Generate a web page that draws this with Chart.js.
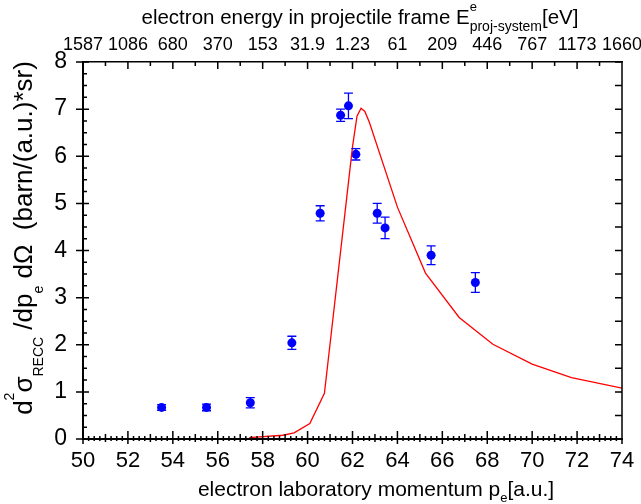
<!DOCTYPE html>
<html>
<head>
<meta charset="utf-8">
<script src="https://cdn.jsdelivr.net/npm/chart.js@4.4.0/dist/chart.umd.min.js"></script>
<style>
  body { margin: 0; background: #fff; }
</style>
</head>
<body>
<canvas id="myChart" width="641" height="504"></canvas>
<script>
// measured points (momentum in a.u., cross section, error)
var momentum = [53.5, 55.5, 57.45, 59.3, 60.56, 61.47, 61.82, 62.15, 63.1, 63.45, 65.5, 67.47];
var crossSection = [0.67, 0.67, 0.77, 2.04, 4.79, 6.87, 7.07, 6.04, 4.79, 4.48, 3.9, 3.32];
var errors = [0.06, 0.07, 0.11, 0.14, 0.16, 0.13, 0.27, 0.12, 0.21, 0.23, 0.2, 0.21];

// theory curve
var theoryMomentum = [57.4, 58.9, 59.4, 60.1, 60.75, 62.0, 62.2, 62.38, 62.55, 62.75, 64.0, 65.25, 66.75, 68.25, 70.0, 71.75, 74.0];
var theoryValue = [0.03, 0.08, 0.13, 0.33, 0.97, 6.2, 6.85, 7.02, 6.95, 6.72, 4.92, 3.52, 2.58, 2.01, 1.59, 1.3, 1.08];

// top axis labels (electron energy in projectile frame, eV)
var energyTicks = ["1587", "1086", "680", "370", "153", "31.9", "1.23", "61", "209", "446", "767", "1173", "1660"];

var FONT = '"Liberation Sans", Arial, Helvetica, sans-serif';

function richText(ctx, parts, x, y) {
    var widths = parts.map(function (p) {
        ctx.font = p.size + "px " + FONT;
        return p.stack ? 0 : ctx.measureText(p.t).width;
    });
    var total = widths.reduce(function (s, w) { return s + w; }, 0);
    var cx = x - total / 2;
    parts.forEach(function (p, i) {
        ctx.font = p.size + "px " + FONT;
        ctx.fillText(p.t, cx, y + (p.dy || 0));
        cx += widths[i];
    });
}

var errorBars = {
    id: "errorBars",
    afterDatasetsDraw: function (chart) {
        var ctx = chart.ctx, xs = chart.scales.x, ys = chart.scales.y;
        ctx.save();
        ctx.strokeStyle = "#0000ff";
        ctx.lineWidth = 1.3;
        ctx.beginPath();
        for (var i = 0; i < momentum.length; i++) {
            var px = xs.getPixelForValue(momentum[i]);
            var top = ys.getPixelForValue(crossSection[i] + errors[i]);
            var bot = ys.getPixelForValue(crossSection[i] - errors[i]);
            ctx.moveTo(px, top); ctx.lineTo(px, bot);
            ctx.moveTo(px - 4.5, top); ctx.lineTo(px + 4.5, top);
            ctx.moveTo(px - 4.5, bot); ctx.lineTo(px + 4.5, bot);
        }
        ctx.stroke();
        ctx.restore();
    }
};

var axisDecor = {
    id: "axisDecor",
    afterDraw: function (chart) {
        var ctx = chart.ctx, a = chart.chartArea, xs = chart.scales.x, ys = chart.scales.y;
        ctx.save();
        ctx.strokeStyle = "#000";
        ctx.lineWidth = 1.5;
        ctx.beginPath();
        // bottom ticks, every 0.25
        for (var i = 0; i <= 96; i++) {
            var px = xs.getPixelForValue(50 + i * 0.25);
            var up = 3, dn = 2;
            if (i % 8 === 0) { up = 8; dn = 5; } else if (i % 4 === 0) { up = 5; dn = 3; }
            ctx.moveTo(px, a.bottom - up); ctx.lineTo(px, a.bottom + dn);
        }
        // top ticks, every 1
        for (var j = 0; j <= 24; j++) {
            var tx = xs.getPixelForValue(50 + j);
            ctx.moveTo(tx, a.top); ctx.lineTo(tx, a.top + (j % 2 === 0 ? 7 : 4));
        }
        // left ticks, every 0.25
        for (var k = 0; k <= 32; k++) {
            var py = ys.getPixelForValue(k * 0.25);
            if (k % 4 === 0) { ctx.moveTo(a.left - 7, py); ctx.lineTo(a.left + 6, py); }
            else { ctx.moveTo(a.left - 1, py); ctx.lineTo(a.left + 4, py); }
        }
        // right ticks, every 0.5
        for (var m = 0; m <= 16; m++) {
            var ry = ys.getPixelForValue(m * 0.5);
            ctx.moveTo(a.right - 7, ry); ctx.lineTo(a.right, ry);
        }
        ctx.moveTo(a.right, a.top); ctx.lineTo(a.right, a.bottom);
        ctx.stroke();

        // axis titles
        ctx.fillStyle = "#000";
        ctx.textBaseline = "alphabetic";
        ctx.textAlign = "left";
        richText(ctx, [
            { t: "electron energy in projectile frame E", size: 20.5 },
            { t: "e", size: 13, dy: -13, stack: true },
            { t: "proj-system", size: 14, dy: 7 },
            { t: "[eV]", size: 20.5 }
        ], 360, 24);
        richText(ctx, [
            { t: "electron laboratory momentum p", size: 21 },
            { t: "e", size: 13, dy: 6 },
            { t: "[a.u.]", size: 21 }
        ], 376, 496);
        ctx.translate(31.5, 238);
        ctx.rotate(-Math.PI / 2);
        richText(ctx, [
            { t: "d", size: 26 },
            { t: "2", size: 14, dy: -18 },
            { t: "\u03c3", size: 26 },
            { t: "RECC", size: 14, dy: 11 },
            { t: " /dp", size: 26 },
            { t: "e", size: 14, dy: 11 },
            { t: " d\u03a9  (barn/(a.u.)*sr)", size: 26 }
        ], 0, 0);
        ctx.restore();
    }
};

var points = momentum.map(function (v, i) { return { x: v, y: crossSection[i] }; });
var theory = theoryMomentum.map(function (v, i) { return { x: v, y: theoryValue[i] }; });

new Chart("myChart", {
    type: "scatter",
    data: {
        datasets: [{
            type: "line",
            data: theory,
            borderColor: "#ff0000",
            borderWidth: 1.3,
            pointRadius: 0,
            fill: false,
            tension: 0
        }, {
            data: points,
            backgroundColor: "#0000ff",
            borderColor: "#0000ff",
            borderWidth: 0,
            pointRadius: 4.5
        }]
    },
    options: {
        responsive: false,
        animation: false,
        devicePixelRatio: 1,
        layout: { padding: { left: 0, right: 19, top: 0, bottom: 0 } },
        plugins: { legend: { display: false }, tooltip: { enabled: false } },
        scales: {
            x: {
                type: "linear", position: "bottom", min: 50, max: 74,
                afterFit: function (s) { s.height = 65; },
                grid: { display: false },
                border: { display: true, color: "#000", width: 2 },
                ticks: { stepSize: 2, padding: 1, color: "#000", maxRotation: 0, autoSkip: false,
                         font: { family: FONT, size: 22 } }
            },
            x2: {
                type: "linear", position: "top", min: 50, max: 74,
                afterFit: function (s) { s.height = 62; },
                grid: { display: false },
                border: { display: true, color: "#000", width: 1.5 },
                ticks: { stepSize: 2, padding: -2, color: "#000", maxRotation: 0, autoSkip: false,
                         font: { family: FONT, size: 18 },
                         callback: function (value, index) { return energyTicks[index]; } }
            },
            y: {
                type: "linear", min: 0, max: 8,
                afterFit: function (s) { s.width = 83; },
                grid: { display: false },
                border: { display: true, color: "#000", width: 2 },
                ticks: { stepSize: 1, padding: 8, color: "#000", font: { family: FONT, size: 23 } }
            }
        }
    },
    plugins: [errorBars, axisDecor]
});
</script>
</body>
</html>
